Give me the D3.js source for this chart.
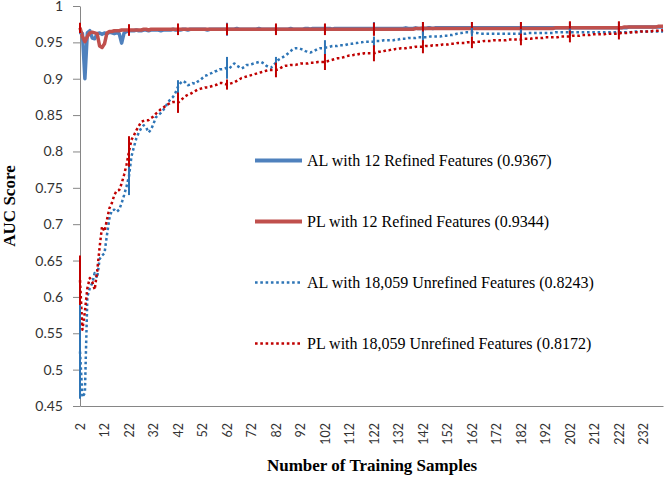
<!DOCTYPE html>
<meta charset="utf-8">
<script src="https://d3js.org/d3.v7.min.js"></script>
<style>
  body { margin: 0; background: #fff; }
  .axis path, .axis line { stroke: #868686; }
  .axis text { font-family: Lato, "Open Sans", sans-serif; fill: #333; }
  .axisTitle { font-family: "Liberation Serif", "Times New Roman", serif; font-weight: bold; font-size: 17px; fill: #000; }
  .legendText { font-family: "Liberation Serif", "Times New Roman", serif; font-size: 16px; fill: #000; }
</style>
<svg id="chart" width="666" height="479"></svg>
<script>
  // categories (number of training samples) and ticks
  var samples = d3.range(2, 241);
  var xTickValues = d3.range(2, 241, 10);
  var yTickValues = [0.45, 0.5, 0.55, 0.6, 0.65, 0.7, 0.75, 0.8, 0.85, 0.9, 0.95, 1];
  var yTickLabels = ["0.45", "0.5", "0.55", "0.6", "0.65", "0.7", "0.75", "0.8", "0.85", "0.9", "0.95", "1"];
  var errorSamples = [2, 22, 42, 62, 82, 102, 122, 142, 162, 182, 202, 222];

  var legendLabels = [
    "AL with 12 Refined Features (0.9367)",
    "PL with 12 Refined Features (0.9344)",
    "AL with 18,059 Unrefined Features (0.8243)",
    "PL with 18,059 Unrefined Features (0.8172)"
  ];

  // AUC per sample count, n = 2 .. 240 (rows of 10)
  var alRefined = [
    0.965, 0.962, 0.900, 0.963, 0.966, 0.956, 0.955, 0.962, 0.963, 0.961,
    0.963, 0.962, 0.964, 0.963, 0.962, 0.963, 0.962, 0.949, 0.963, 0.965,
    0.966, 0.966, 0.966, 0.967, 0.966, 0.966, 0.967, 0.967, 0.966, 0.967,
    0.967, 0.967, 0.967, 0.966, 0.967, 0.967, 0.967, 0.967, 0.968, 0.967,
    0.967, 0.967, 0.968, 0.968, 0.967, 0.968, 0.968, 0.968, 0.968, 0.968,
    0.968, 0.968, 0.967, 0.968, 0.968, 0.968, 0.968, 0.968, 0.968, 0.968,
    0.968, 0.968, 0.968, 0.968, 0.969, 0.968, 0.968, 0.968, 0.968, 0.968,
    0.968, 0.968, 0.968, 0.969, 0.968, 0.968, 0.968, 0.968, 0.968, 0.968,
    0.968, 0.968, 0.968, 0.968, 0.968, 0.968, 0.969, 0.968, 0.968, 0.968,
    0.968, 0.968, 0.969, 0.969, 0.968, 0.969, 0.969, 0.969, 0.969, 0.969,
    0.969, 0.969, 0.969, 0.968, 0.969, 0.969, 0.969, 0.969, 0.969, 0.969,
    0.969, 0.969, 0.969, 0.969, 0.969, 0.969, 0.969, 0.969, 0.969, 0.969,
    0.969, 0.969, 0.969, 0.969, 0.969, 0.969, 0.969, 0.969, 0.969, 0.969,
    0.969, 0.969, 0.969, 0.970, 0.969, 0.969, 0.969, 0.970, 0.969, 0.969,
    0.970, 0.969, 0.970, 0.970, 0.969, 0.970, 0.970, 0.970, 0.970, 0.970,
    0.970, 0.970, 0.970, 0.970, 0.970, 0.970, 0.970, 0.970, 0.970, 0.970,
    0.970, 0.970, 0.970, 0.970, 0.970, 0.970, 0.970, 0.970, 0.970, 0.970,
    0.970, 0.970, 0.970, 0.970, 0.970, 0.970, 0.970, 0.970, 0.970, 0.970,
    0.970, 0.970, 0.970, 0.970, 0.970, 0.970, 0.970, 0.970, 0.970, 0.970,
    0.970, 0.970, 0.970, 0.970, 0.970, 0.970, 0.970, 0.970, 0.970, 0.970,
    0.970, 0.970, 0.970, 0.970, 0.970, 0.970, 0.970, 0.970, 0.970, 0.970,
    0.970, 0.970, 0.970, 0.970, 0.970, 0.970, 0.970, 0.970, 0.970, 0.970,
    0.970, 0.970, 0.970, 0.970, 0.971, 0.971, 0.971, 0.971, 0.971, 0.971,
    0.971, 0.971, 0.971, 0.971, 0.971, 0.971, 0.971, 0.971, 0.971
  ];

  var plRefined = [
    0.970, 0.958, 0.951, 0.958, 0.963, 0.964, 0.963, 0.962, 0.945, 0.943,
    0.948, 0.963, 0.965, 0.965, 0.966, 0.966, 0.966, 0.967, 0.967, 0.967,
    0.967, 0.967, 0.967, 0.967, 0.967, 0.967, 0.968, 0.968, 0.967, 0.968,
    0.968, 0.968, 0.968, 0.968, 0.968, 0.968, 0.968, 0.968, 0.968, 0.968,
    0.968, 0.968, 0.968, 0.968, 0.968, 0.968, 0.968, 0.968, 0.968, 0.968,
    0.968, 0.968, 0.968, 0.968, 0.968, 0.968, 0.968, 0.968, 0.968, 0.968,
    0.968, 0.968, 0.968, 0.968, 0.968, 0.968, 0.968, 0.968, 0.968, 0.968,
    0.968, 0.968, 0.968, 0.968, 0.968, 0.968, 0.968, 0.968, 0.968, 0.968,
    0.968, 0.968, 0.968, 0.968, 0.968, 0.968, 0.968, 0.968, 0.968, 0.968,
    0.968, 0.968, 0.968, 0.968, 0.968, 0.968, 0.968, 0.968, 0.968, 0.968,
    0.968, 0.968, 0.968, 0.968, 0.968, 0.968, 0.968, 0.968, 0.968, 0.968,
    0.968, 0.968, 0.968, 0.968, 0.968, 0.968, 0.968, 0.968, 0.968, 0.968,
    0.968, 0.968, 0.968, 0.968, 0.968, 0.968, 0.968, 0.968, 0.968, 0.968,
    0.968, 0.968, 0.968, 0.968, 0.968, 0.968, 0.968, 0.969, 0.969, 0.969,
    0.969, 0.969, 0.969, 0.969, 0.969, 0.969, 0.969, 0.969, 0.969, 0.969,
    0.969, 0.969, 0.969, 0.969, 0.969, 0.969, 0.969, 0.969, 0.969, 0.969,
    0.969, 0.969, 0.969, 0.969, 0.969, 0.969, 0.969, 0.969, 0.969, 0.969,
    0.969, 0.969, 0.969, 0.969, 0.969, 0.969, 0.969, 0.969, 0.969, 0.969,
    0.969, 0.969, 0.969, 0.969, 0.969, 0.969, 0.969, 0.969, 0.969, 0.969,
    0.969, 0.969, 0.969, 0.969, 0.970, 0.970, 0.970, 0.970, 0.970, 0.970,
    0.970, 0.970, 0.970, 0.970, 0.970, 0.970, 0.970, 0.970, 0.970, 0.970,
    0.970, 0.970, 0.970, 0.970, 0.970, 0.970, 0.970, 0.970, 0.970, 0.970,
    0.970, 0.970, 0.971, 0.971, 0.971, 0.971, 0.971, 0.971, 0.971, 0.971,
    0.971, 0.971, 0.971, 0.971, 0.971, 0.971, 0.972, 0.972, 0.972
  ];

  var alUnrefined = [
    0.525, 0.462, 0.468, 0.600, 0.612, 0.619, 0.633, 0.626, 0.652, 0.657,
    0.660, 0.685, 0.708, 0.719, 0.720, 0.717, 0.720, 0.729, 0.740, 0.752,
    0.766, 0.793, 0.806, 0.818, 0.826, 0.832, 0.836, 0.833, 0.826, 0.830,
    0.838, 0.847, 0.850, 0.853, 0.857, 0.862, 0.868, 0.872, 0.875, 0.881,
    0.889, 0.894, 0.897, 0.895, 0.891, 0.892, 0.894, 0.893, 0.896, 0.898,
    0.901, 0.904, 0.905, 0.907, 0.908, 0.910, 0.911, 0.913, 0.913, 0.914,
    0.915, 0.914, 0.918, 0.921, 0.918, 0.916, 0.914, 0.916, 0.919, 0.919,
    0.920, 0.921, 0.922, 0.923, 0.923, 0.921, 0.918, 0.916, 0.915, 0.919,
    0.922, 0.926, 0.928, 0.930, 0.932, 0.935, 0.938, 0.941, 0.942, 0.942,
    0.941, 0.940, 0.938, 0.937, 0.936, 0.937, 0.939, 0.941, 0.942, 0.942,
    0.943, 0.943, 0.944, 0.945, 0.945, 0.945, 0.946, 0.946, 0.946, 0.947,
    0.948, 0.948, 0.949, 0.949, 0.950, 0.950, 0.951, 0.951, 0.951, 0.951,
    0.951, 0.952, 0.952, 0.952, 0.953, 0.953, 0.953, 0.953, 0.953, 0.954,
    0.954, 0.955, 0.955, 0.955, 0.956, 0.956, 0.956, 0.956, 0.957, 0.957,
    0.957, 0.957, 0.957, 0.958, 0.958, 0.958, 0.958, 0.958, 0.959, 0.959,
    0.959, 0.960, 0.960, 0.961, 0.962, 0.963, 0.963, 0.964, 0.964, 0.964,
    0.964, 0.963, 0.963, 0.962, 0.962, 0.962, 0.962, 0.962, 0.962, 0.962,
    0.962, 0.962, 0.962, 0.962, 0.962, 0.962, 0.962, 0.962, 0.962, 0.962,
    0.962, 0.962, 0.962, 0.963, 0.963, 0.963, 0.963, 0.963, 0.963, 0.963,
    0.963, 0.963, 0.963, 0.963, 0.964, 0.964, 0.964, 0.964, 0.964, 0.964,
    0.964, 0.964, 0.964, 0.964, 0.964, 0.964, 0.964, 0.964, 0.964, 0.964,
    0.964, 0.964, 0.964, 0.964, 0.964, 0.964, 0.964, 0.964, 0.964, 0.964,
    0.964, 0.964, 0.964, 0.964, 0.964, 0.964, 0.965, 0.965, 0.965, 0.965,
    0.965, 0.965, 0.965, 0.965, 0.965, 0.965, 0.965, 0.965, 0.965
  ];

  var plUnrefined = [
    0.623, 0.555, 0.580, 0.612, 0.626, 0.621, 0.610, 0.635, 0.668, 0.697,
    0.690, 0.706, 0.722, 0.729, 0.740, 0.746, 0.747, 0.756, 0.768, 0.782,
    0.800, 0.816, 0.822, 0.829, 0.835, 0.841, 0.842, 0.843, 0.843, 0.846,
    0.848, 0.852, 0.855, 0.858, 0.860, 0.863, 0.865, 0.867, 0.868, 0.868,
    0.867, 0.870, 0.873, 0.876, 0.878, 0.879, 0.881, 0.883, 0.885, 0.886,
    0.887, 0.888, 0.888, 0.889, 0.890, 0.891, 0.892, 0.894, 0.894, 0.893,
    0.892, 0.893, 0.894, 0.895, 0.897, 0.899, 0.901, 0.902, 0.903, 0.904,
    0.905, 0.906, 0.907, 0.908, 0.909, 0.910, 0.911, 0.912, 0.912, 0.912,
    0.912, 0.913, 0.915, 0.917, 0.918, 0.918, 0.919, 0.919, 0.919, 0.920,
    0.921, 0.921, 0.921, 0.921, 0.922, 0.922, 0.922, 0.923, 0.923, 0.923,
    0.923, 0.924, 0.925, 0.926, 0.927, 0.928, 0.928, 0.929, 0.930, 0.931,
    0.932, 0.932, 0.933, 0.933, 0.934, 0.934, 0.935, 0.935, 0.935, 0.935,
    0.935, 0.936, 0.937, 0.937, 0.938, 0.939, 0.939, 0.940, 0.940, 0.941,
    0.941, 0.942, 0.942, 0.942, 0.943, 0.943, 0.943, 0.944, 0.944, 0.944,
    0.944, 0.945, 0.945, 0.945, 0.946, 0.946, 0.946, 0.946, 0.947, 0.947,
    0.947, 0.948, 0.948, 0.948, 0.949, 0.949, 0.949, 0.949, 0.950, 0.950,
    0.950, 0.950, 0.951, 0.951, 0.951, 0.952, 0.952, 0.952, 0.952, 0.953,
    0.953, 0.953, 0.953, 0.953, 0.953, 0.954, 0.954, 0.954, 0.954, 0.954,
    0.954, 0.955, 0.955, 0.955, 0.955, 0.956, 0.956, 0.956, 0.956, 0.956,
    0.957, 0.957, 0.957, 0.957, 0.957, 0.957, 0.958, 0.958, 0.958, 0.958,
    0.958, 0.959, 0.959, 0.959, 0.959, 0.960, 0.960, 0.960, 0.960, 0.961,
    0.961, 0.961, 0.961, 0.961, 0.961, 0.962, 0.962, 0.962, 0.962, 0.962,
    0.962, 0.963, 0.963, 0.963, 0.963, 0.964, 0.964, 0.964, 0.964, 0.965,
    0.965, 0.965, 0.965, 0.965, 0.966, 0.966, 0.966, 0.966, 0.967
  ];

  // error bar half widths at errorSamples
  var alRefinedErr = [0.004, 0.006, 0.006, 0.009, 0.006, 0.006, 0.009, 0.008, 0.008, 0.008, 0.008, 0.008];
  var plRefinedErr = [0.007, 0.008, 0.008, 0.008, 0.008, 0.008, 0.009, 0.009, 0.009, 0.009, 0.009, 0.009];
  var alUnrefinedErr = [0.065, 0.026, 0.009, 0.015, 0.008, 0.010, 0.007, 0.008, 0.006, 0.006, 0.005, 0.004];
  var plUnrefinedErr = [0.034, 0.021, 0.014, 0.007, 0.010, 0.011, 0.011, 0.009, 0.008, 0.008, 0.008, 0.008];

  var series = [
    { values: alRefined, err: alRefinedErr, color: "#4F81BD", width: 3.5, dash: null, errColor: "#4F81BD" },
    { values: plRefined, err: plRefinedErr, color: "#C0504D", width: 3.5, dash: null, errColor: "#C00000" },
    { values: alUnrefined, err: alUnrefinedErr, color: "#2E75B6", width: 2.5, dash: "2.6 2.7", errColor: "#2E75B6" },
    { values: plUnrefined, err: plUnrefinedErr, color: "#C00000", width: 2.5, dash: "2.6 2.7", errColor: "#C00000" }
  ];

  var svg = d3.select("#chart");

  var x = d3.scalePoint().domain(samples).range([80, 663]);
  var y = d3.scaleLinear().domain([0.45, 1]).range([406, 6]);

  // y axis
  svg.append("g")
    .attr("class", "axis")
    .attr("transform", "translate(80,0)")
    .call(d3.axisLeft(y)
      .tickValues(yTickValues)
      .tickFormat(function (d, i) { return yTickLabels[i]; })
      .tickSize(7)
      .tickSizeOuter(0)
      .tickPadding(10))
    .selectAll("text")
    .style("font-size", "14px");

  // x axis with vertical labels
  var xAxis = svg.append("g")
    .attr("class", "axis")
    .attr("transform", "translate(0,406)")
    .call(d3.axisBottom(x)
      .tickValues(xTickValues)
      .tickSize(0)
      .tickSizeOuter(0));
  xAxis.selectAll(".tick line").remove();
  xAxis.selectAll("text")
    .attr("transform", "rotate(-90)")
    .attr("x", -17)
    .attr("y", 0)
    .attr("dy", "0.35em")
    .style("text-anchor", "end")
    .style("font-size", "12.5px");

  // lines
  var line = d3.line()
    .x(function (d, i) { return x(samples[i]); })
    .y(function (d) { return y(d); });

  series.forEach(function (s) {
    svg.append("path")
      .datum(s.values)
      .attr("d", line)
      .attr("fill", "none")
      .attr("stroke", s.color)
      .attr("stroke-width", s.width)
      .attr("stroke-dasharray", s.dash)
      .attr("stroke-linejoin", "round");
  });

  // error bars
  series.forEach(function (s) {
    svg.append("g")
      .selectAll("line")
      .data(errorSamples)
      .join("line")
      .attr("x1", function (n) { return x(n); })
      .attr("x2", function (n) { return x(n); })
      .attr("y1", function (n, i) { return y(s.values[samples.indexOf(n)] - s.err[i]); })
      .attr("y2", function (n, i) { return y(s.values[samples.indexOf(n)] + s.err[i]); })
      .attr("stroke", s.errColor)
      .attr("stroke-width", 2);
  });

  // axis titles
  svg.append("text")
    .attr("class", "axisTitle")
    .attr("x", 372)
    .attr("y", 471)
    .attr("text-anchor", "middle")
    .text("Number of Training Samples");

  svg.append("text")
    .attr("class", "axisTitle")
    .attr("transform", "translate(15,206) rotate(-90)")
    .attr("text-anchor", "middle")
    .text("AUC Score");

  // legend
  var legend = svg.append("g")
    .selectAll("g")
    .data(legendLabels)
    .join("g")
    .attr("transform", function (d, i) { return "translate(255," + (160.5 + i * 61) + ")"; });

  legend.append("line")
    .attr("x1", 0)
    .attr("x2", 47)
    .attr("stroke", function (d, i) { return series[i].color; })
    .attr("stroke-width", function (d, i) { return series[i].dash ? 2.5 : 4; })
    .attr("stroke-dasharray", function (d, i) { return series[i].dash; });

  legend.append("text")
    .attr("class", "legendText")
    .attr("x", 52)
    .attr("dy", "0.35em")
    .text(function (d) { return d; });
</script>
